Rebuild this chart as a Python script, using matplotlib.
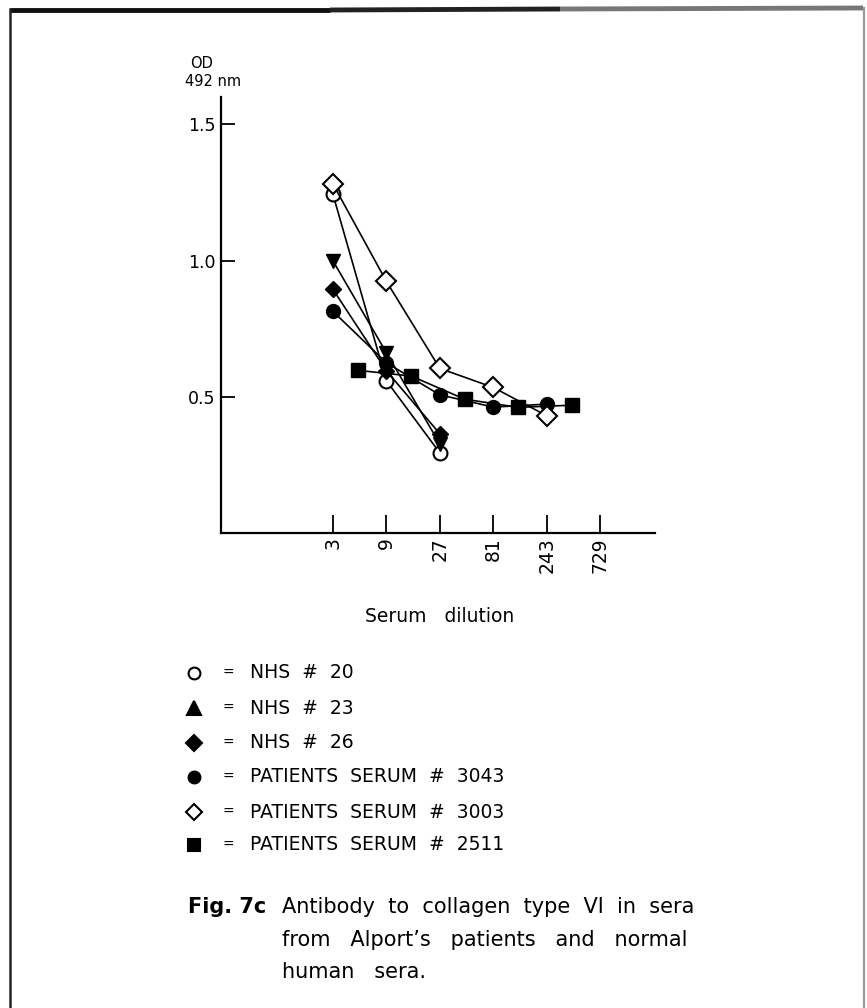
import matplotlib
matplotlib.use("Agg")
import matplotlib.pyplot as plt

# ---------------- data ----------------
dilution = [3, 9, 27, 81, 243]
dilution_2511 = [5, 15, 45, 135, 405]
x_ticks = [3, 9, 27, 81, 243, 729]
x_tick_labels = ["3", "9", "27", "81", "243", "729"]
y_ticks = [0.5, 1.0, 1.5]
y_tick_labels = ["0.5", "1.0", "1.5"]

nhs20 = [1.245, 0.559, 0.294]
nhs23 = [1.000, 0.662, 0.327]
nhs26 = [0.895, 0.596, 0.364]
p3043 = [0.814, 0.625, 0.507, 0.462, 0.473]
p3003 = [1.282, 0.924, 0.604, 0.534, 0.430]
p2511 = [0.597, 0.576, 0.491, 0.461, 0.469]

legend_labels = ["NHS  #  20", "NHS  #  23", "NHS  #  26",
                 "PATIENTS  SERUM  #  3043", "PATIENTS  SERUM  #  3003",
                 "PATIENTS  SERUM  #  2511"]

W, H = 867, 1008
fig = plt.figure(figsize=(W / 100, H / 100), dpi=100)
fig.patch.set_facecolor("white")

# ---------------- main axes ----------------
ax_l, ax_r, ax_b, ax_t = 221, 655, 533, 97
ax = fig.add_axes([ax_l / W, 1 - ax_b / H, (ax_r - ax_l) / W, (ax_b - ax_t) / H])
ax.set_xscale("log", base=3)
ax.set_xlim(3 ** -1.088, 3 ** 7.02)
ax.set_ylim(0, 1.6)
for s in ["top", "right"]:
    ax.spines[s].set_visible(False)
for s in ["left", "bottom"]:
    ax.spines[s].set_linewidth(1.6)
ax.set_xticks(x_ticks)
ax.set_xticklabels(x_tick_labels, rotation=90, fontsize=13.5)
ax.xaxis.set_minor_locator(matplotlib.ticker.NullLocator())
ax.set_yticks(y_ticks)
ax.set_yticklabels(y_tick_labels, fontsize=12.5)
ax.tick_params(axis="x", direction="in", length=13, width=1.3, pad=3)
ax.tick_params(axis="y", direction="in", length=10, width=1.3, pad=4)

lw = 1.2
ms = 10
ax.plot(dilution[:3], nhs20, "-", color="black", lw=lw, marker="o", ms=ms,
        mfc="white", mec="black", mew=1.5, zorder=3)
ax.plot(dilution[:3], nhs23, "-", color="black", lw=lw, marker="v", ms=ms,
        mfc="black", mec="black", zorder=3)
ax.plot(dilution[:3], nhs26, "-", color="black", lw=lw, marker="D", ms=ms - 1.5,
        mfc="black", mec="black", zorder=3)
ax.plot(dilution, p3043, "-", color="black", lw=lw, marker="o", ms=ms,
        mfc="black", mec="black", zorder=3)
ax.plot(dilution, p3003, "-", color="black", lw=lw, marker="D", ms=ms,
        mfc="white", mec="black", mew=1.5, zorder=4)
ax.plot(dilution_2511, p2511, "-", color="black", lw=lw, marker="s", ms=ms,
        mfc="black", mec="black", zorder=3)

# ---------------- overlay (pixel coordinates) ----------------
ov = fig.add_axes([0, 0, 1, 1], zorder=-1)
ov.set_xlim(0, W)
ov.set_ylim(H, 0)
ov.axis("off")

# scanned page frame
ov.plot([10, 330], [10, 10], color="#111111", lw=3.5, solid_capstyle="butt")
ov.plot([330, 560], [10, 9], color="#222222", lw=3.5, solid_capstyle="butt")
ov.plot([560, 863], [9, 8], color="#777777", lw=3.5, solid_capstyle="butt")
ov.plot([10, 10], [9, H], color="#222222", lw=1.8)
ov.plot([864, 864], [8, H], color="#999999", lw=1.6)

# axis titles
ov.text(190, 64, "OD", fontsize=10.5, ha="left", va="center")
ov.text(185, 81, "492 nm", fontsize=10.5, ha="left", va="center")
ov.text(478, 126, "COLLAGEN  VI", fontsize=14, ha="left", va="center")
ov.text(440, 616, "Serum   dilution", fontsize=13.5, ha="center", va="center")

# legend
leg_markers = [("o", "white", 8.5), ("^", "black", 10), ("D", "black", 8.5),
               ("o", "black", 8.5), ("D", "white", 8.5), ("s", "black", 8.5)]
rows = [673, 708, 743, 777, 812, 845]
for (m, fc, s), yrow, lab in zip(leg_markers, rows, legend_labels):
    ov.plot([194], [yrow], marker=m, ms=s, mfc=fc, mec="black", mew=1.5,
            ls="none")
    ov.text(228, yrow, "=", fontsize=10, ha="center", va="center")
    ov.text(250, yrow, lab, fontsize=13.5, ha="left", va="center")

# caption
ov.text(188, 907, "Fig. 7c", fontsize=15, fontweight="bold", ha="left",
        va="center")
ov.text(282, 907, "Antibody  to  collagen  type  VI  in  sera", fontsize=15,
        ha="left", va="center")
ov.text(282, 940, "from   Alport\u2019s   patients   and   normal", fontsize=15,
        ha="left", va="center")
ov.text(282, 972, "human   sera.", fontsize=15, ha="left", va="center")

fig.savefig("out.png", dpi=100, facecolor="white")
